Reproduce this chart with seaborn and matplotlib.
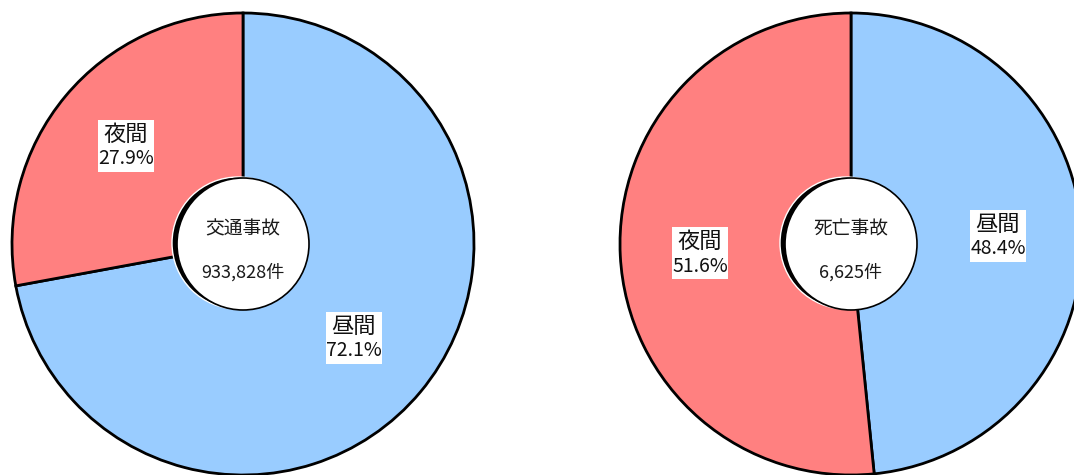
import matplotlib
matplotlib.use("Agg")
import matplotlib.pyplot as plt
from matplotlib.patches import Circle, Rectangle
import seaborn as sns

sns.set_style("white")
plt.rcParams["font.family"] = ["Noto Sans CJK JP", "DejaVu Sans"]

# Day / night shares of accidents
categories = ["昼間", "夜間"]
accident_share = [72.1, 27.9]
fatal_share = [48.4, 51.6]
titles = ["交通事故", "死亡事故"]
totals = ["933,828件", "6,625件"]
colors = ["#99CCFF", "#FF8080"]

W, H = 1074, 475
fig = plt.figure(figsize=(W / 100, H / 100), dpi=100)
ax = fig.add_axes([0, 0, 1, 1])

R = 231
R_IN = 66
centers = [(243, H - 244), (851, H - 244)]
label_pos = [
    {"昼間": (354, H - 338), "夜間": (126, H - 146)},
    {"昼間": (998, H - 236), "夜間": (700, H - 253)},
]

for (cx, cy), shares, title, total, lpos in zip(
    centers, [accident_share, fatal_share], titles, totals, label_pos
):
    ax.pie(
        shares,
        colors=colors,
        startangle=90,
        counterclock=False,
        center=(cx, cy),
        radius=R,
        wedgeprops={"edgecolor": "black", "linewidth": 2.0},
        frame=True,
    )
    # inner hole with a dark drop shadow
    ax.add_patch(Circle((cx - 5, cy + 1), R_IN, facecolor="black", zorder=5))
    ax.add_patch(Circle((cx, cy), R_IN, facecolor="white", edgecolor="black",
                        linewidth=1.2, zorder=6))
    ax.text(cx, cy + 15, title, ha="center", va="center", fontsize=13.5,
            color="#1a1a1a", zorder=7)
    ax.text(cx, cy - 28, total, ha="center", va="center", fontsize=13,
            color="#1a1a1a", zorder=7)
    for cat, val in zip(categories, shares):
        x, y = lpos[cat]
        ax.add_patch(Rectangle((x - 28, y - 26), 56, 52, facecolor="white",
                               edgecolor="none", zorder=8))
        ax.text(x, y + 12, cat, ha="center", va="center", fontsize=16,
                color="#111111", zorder=9)
        ax.text(x, y - 13, f"{val:.1f}%", ha="center", va="center",
                fontsize=14, color="#111111", zorder=9)

ax.set_xlim(0, W)
ax.set_ylim(0, H)
ax.set_aspect("equal")
ax.axis("off")
fig.savefig("out.png", dpi=100)
